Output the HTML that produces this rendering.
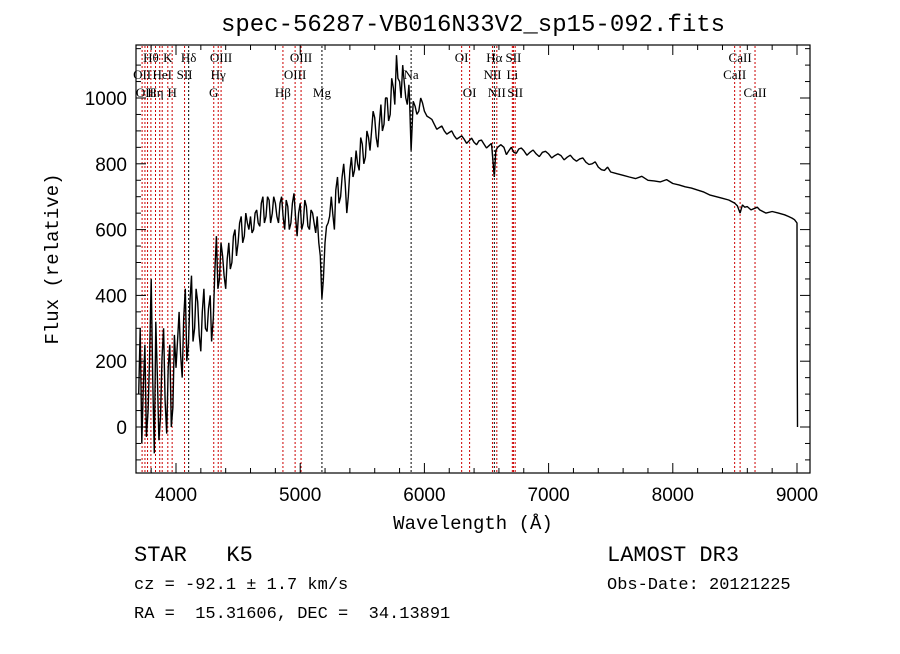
<!DOCTYPE html>
<html><head><meta charset="utf-8">
<style>
body{margin:0;background:#fff;width:900px;height:649px;overflow:hidden;font-family:"Liberation Serif",serif}
svg text{font-family:"Liberation Mono",monospace;fill:#000;white-space:pre}
</style></head>
<body>
<svg id="chart" width="900" height="649" xmlns="http://www.w3.org/2000/svg" xml:space="preserve">
<text x="473" y="31" font-size="24" text-anchor="middle">spec-56287-VB016N33V2_sp15-092.fits</text>
<g id="lines"></g>
<g id="labels"></g>
<path id="spec" fill="none" stroke="#000" stroke-width="1.4" stroke-linejoin="bevel"/>
<rect x="136" y="45" width="674" height="428" fill="none" stroke="#000" stroke-width="1.2"/>
<g id="ticks"></g>
<text x="473" y="529" font-size="19" text-anchor="middle">Wavelength (Å)</text>
<text transform="translate(58,259) rotate(-90)" font-size="19" text-anchor="middle">Flux (relative)</text>
<text x="134" y="561" font-size="22">STAR   K5</text>
<text x="134" y="589" font-size="17">cz = -92.1 ± 1.7 km/s</text>
<text x="134" y="618" font-size="17">RA =  15.31606, DEC =  34.13891</text>
<text x="607" y="561" font-size="22">LAMOST DR3</text>
<text x="607" y="589" font-size="17">Obs-Date: 20121225</text>
</svg>
<script>
const wl=[3700,3725,3750,3775,3800,3825,3850,3875,3900,3925,3950,3975,4000,4025,4050,4075,4100,4125,4150,4175,4200,4225,4250,4275,4300,4325,4350,4375,4400,4425,4450,4475,4500,4525,4550,4575,4600,4625,4650,4675,4700,4725,4750,4775,4800,4825,4850,4875,4900,4925,4950,4975,5000,5025,5050,5075,5100,5125,5150,5175,5200,5225,5250,5275,5300,5325,5350,5375,5400,5425,5450,5475,5500,5525,5550,5575,5600,5625,5650,5675,5700,5725,5750,5775,5800,5825,5850,5875,5893,5910,5940,5970,6000,6040,6080,6120,6160,6200,6240,6280,6320,6360,6400,6440,6480,6520,6563,6590,6640,6680,6720,6760,6800,6850,6900,6950,7000,7050,7100,7150,7200,7250,7300,7350,7400,7450,7500,7600,7700,7800,7900,8000,8100,8200,8300,8400,8500,8542,8560,8600,8662,8700,8800,8900,8960,9000,9002,9004];
const flux=[100,-50,250,50,450,-80,150,30,300,-20,250,60,180,350,150,420,250,460,300,380,230,420,290,400,330,580,450,520,420,560,500,600,560,640,580,620,640,600,660,610,700,640,690,650,680,620,700,600,670,620,710,580,680,620,670,600,650,590,560,390,560,620,700,600,760,700,800,650,780,760,840,780,860,820,880,900,940,850,980,920,1000,950,1030,1130,1050,1100,1000,1040,840,990,950,1000,960,940,920,910,900,895,885,880,875,870,865,870,860,855,760,850,850,840,835,845,840,835,830,835,830,825,825,820,815,815,805,800,790,780,775,765,755,750,745,740,730,720,705,695,680,650,675,670,665,660,655,645,635,620,220,0];
const wlMid=[3712,3737,3762,3787,3812,3837,3862,3887,3912,3937,3962,3987,4012,4037,4062,4087,4112,4137,4162,4187,4212,4237,4262,4287,4312,4337,4362,4387,4412,4437,4462,4487,4512,4537,4562,4587,4612,4637,4662,4687,4712,4737,4762,4787,4812,4837,4862,4887,4912,4937,4962,4987,5012,5037,5062,5087,5112,5137,5162,5187,5212,5237,5262,5287,5312,5337,5362,5387,5412,5437,5462,5487,5512,5537,5562,5587,5612,5637,5662,5687,5712,5737,5762,5787,5812,5837,5862,5880,5925,5955,5985,6020,6060,6100,6140,6180,6220,6260,6300,6340,6380,6420,6460,6500,6540,6575,6615,6660,6700,6740,6780,6825,6875,6925,6975,7025,7075,7125,7175,7225,7275,7325,7375,7425,7475,7550,7650,7750,7850,7950,8050,8150,8250,8350,8450,8520,8580,8630,8680,8750,8850,8930,8980];
const fluxMid=[300,120,-30,200,150,320,-40,210,80,180,0,280,260,220,330,200,380,260,420,280,350,300,360,260,470,420,560,460,510,480,580,520,620,560,650,600,590,650,620,680,620,700,620,700,640,680,640,690,600,680,640,650,600,690,610,660,620,640,520,450,610,640,650,720,680,760,740,700,820,780,800,880,800,900,840,960,880,920,900,1000,930,1060,980,1060,1000,1050,980,1000,975,960,985,945,935,905,915,890,900,875,885,862,878,858,872,848,862,840,858,828,850,832,848,826,842,822,838,818,830,812,826,808,818,798,806,782,790,770,760,762,748,752,736,726,714,700,690,672,668,660,668,650,650,640,630];
const lineWl=[3727,3750,3771,3798,3835,3869,3889,3934,3969,4069,4102,4304,4340,4363,4861,4959,5007,5175,5893,6300,6364,6548,6563,6583,6708,6717,6731,8498,8542,8662];
const lineLbl=["OII","OII","","Hθ","Hη","","HeI","K","H","SII","Hδ","G","Hγ","OIII","Hβ","OIII","OIII","Mg","Na","OI","OI","NII","Hα","NII","Li","SII","SII","CaII","CaII","CaII"];
const lineRow=[2,3,0,1,3,0,2,1,3,2,1,3,2,1,3,2,1,3,2,1,3,2,1,3,2,1,3,2,1,3];
const xTicks=[4000,5000,6000,7000,8000,9000];
const yTicks=[0,200,400,600,800,1000];
const X=w=>176+(w-4000)*0.1242;
const Y=f=>427-f*0.329;
const NS="http://www.w3.org/2000/svg";
function mk(t,a,p){const e=document.createElementNS(NS,t);for(const k in a)e.setAttribute(k,a[k]);p.appendChild(e);return e;}
const Lg=document.getElementById('lines'),Lb=document.getElementById('labels'),Tg=document.getElementById('ticks');
lineWl.forEach((w,i)=>{
  const x=X(w);
  const blk=(w===5175||w===5893||w===4102||w===6563);
  const l=mk('line',{x1:x,x2:x,y1:46,y2:472,stroke:blk?'#000':'#c00','stroke-width':1,'stroke-dasharray':'2,2'},Lg);
  
  
  if(lineLbl[i]){
    const t=mk('text',{x:x,y:[0,62,79,97][lineRow[i]],'font-size':13,'text-anchor':'middle','font-family':'Liberation Serif','style':'font-family:"Liberation Serif",serif'},Lb);
    t.textContent=lineLbl[i];
    
    
  }
});
const pts=wl.map((w,i)=>[w,flux[i]]).concat(wlMid.map((w,i)=>[w,fluxMid[i]])).sort((a,b)=>a[0]-b[0]);
let d='';pts.forEach((p,i)=>{d+=(i?'L':'M')+X(p[0]).toFixed(1)+','+Y(p[1]).toFixed(1);});
document.getElementById('spec').setAttribute('d',d);
for(let w=3800;w<=9100;w+=200){const x=X(w);const maj=w%1000===0;const h=maj?10:5;
  mk('line',{x1:x,x2:x,y1:473,y2:473-h,stroke:'#000'},Tg);mk('line',{x1:x,x2:x,y1:45,y2:45+h,stroke:'#000'},Tg);}
for(let f=-100;f<=1150;f+=50){const y=Y(f);const maj=f%200===0;const h=maj?10:5;
  mk('line',{x1:136,x2:136+h,y1:y,y2:y,stroke:'#000'},Tg);mk('line',{x1:810,x2:810-h,y1:y,y2:y,stroke:'#000'},Tg);}
xTicks.forEach(v=>{const t=mk('text',{x:X(v),y:501,'font-size':19,'text-anchor':'middle','style':'font-family:"Liberation Sans",sans-serif'},Tg);t.textContent=v;
  
  });
yTicks.forEach(v=>{const t=mk('text',{x:127,y:Y(v)+7,'font-size':19,'text-anchor':'end','style':'font-family:"Liberation Sans",sans-serif'},Tg);t.textContent=v;
  
  });
</script>
</body></html>
